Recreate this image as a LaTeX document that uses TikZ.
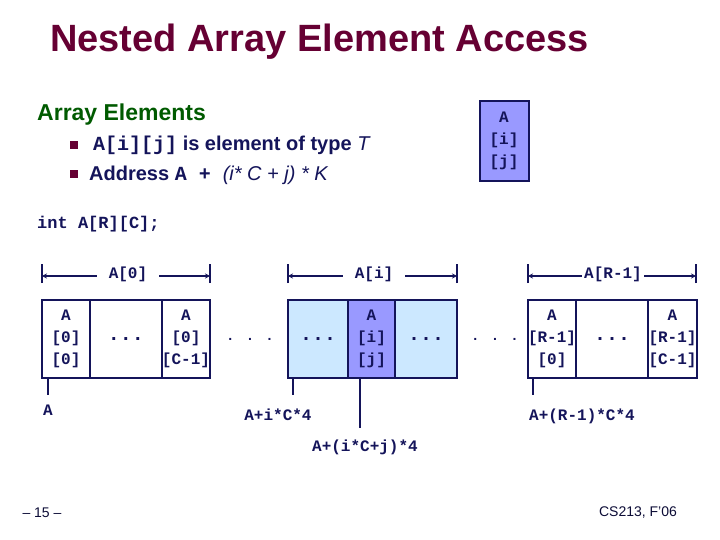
\documentclass[tikz,border=0pt]{standalone}
\usepackage{fontspec}
\setmainfont{Liberation Sans}
\newfontfamily\mono{Liberation Mono}
\usetikzlibrary{arrows.meta}
\definecolor{navy}{HTML}{14145A}
\definecolor{maroon}{HTML}{660033}
\definecolor{dgreen}{HTML}{005A00}
\definecolor{lblue}{HTML}{CCE8FF}
\definecolor{purp}{HTML}{9999FF}
\begin{document}
\begin{tikzpicture}[x=1pt,y=-1pt,
  cell/.style={draw=navy, line width=2.5pt, minimum height=78pt, inner sep=0pt,
    align=center, text=navy, font=\mono\bfseries\fontsize{16}{22}\selectfont},
  dotcell/.style={cell, font=\mono\bfseries\fontsize{20}{22}\selectfont},
  code/.style={text=navy, font=\mono\bfseries\fontsize{16}{18}\selectfont, inner sep=0pt},
  dimlab/.style={code, inner ysep=2pt},
  dimline/.style={navy, line width=2pt, -{Stealth[length=5pt,width=5pt]}},
  tickline/.style={navy, line width=2.5pt},
  ptr/.style={navy, line width=2.5pt},
  bullet/.style={fill=maroon, minimum size=8pt, inner sep=0pt},
  dots/.style={text=navy, font=\mono\bfseries\fontsize{14}{18}\selectfont, inner sep=0pt},
]
\useasboundingbox (0,0) rectangle (720,540);

% title
\node[text=maroon, font=\bfseries\fontsize{38}{40}\selectfont, anchor=base west, inner sep=0pt] (title) at (50,52) {Nested Array Element Access};

% heading and bullets
\node[text=dgreen, font=\bfseries\fontsize{23}{26}\selectfont, anchor=base west, inner sep=0pt] (head) at (37,121) {Array Elements};
\node[bullet] (b1) at (74,145) {};
\node[bullet] (b2) at (74,174) {};
\node[anchor=base west, inner sep=0pt, text=navy, font=\bfseries\fontsize{20}{22}\selectfont] (t1) at (93,151)
  {{\mono A[i][j]} is element of type {\itshape\mdseries T}};
\node[anchor=base west, inner sep=0pt, text=navy, font=\bfseries\fontsize{20}{22}\selectfont] (t2) at (89,181)
  {Address {\mono A + }{\itshape\mdseries (i* C + j) * K}};

% element box top right
\node[cell, fill=purp, minimum width=49pt, minimum height=80pt, line width=2pt] (elem) at (504,141) {A\\{[i]}\\{[j]}};

% declaration
\node[anchor=base west, inner sep=0pt, text=navy, font=\mono\bfseries\fontsize{17}{20}\selectfont] (decl) at (37,229) {int A[R][C];};

% array cells
\node[cell, minimum width=48pt] (a00) at (66,339) {A\\{[0]}\\{[0]}};
\node[dotcell, minimum width=72pt] (a0d) at (126,339) {...};
\node[cell, minimum width=48pt] (a0e) at (186,339) {A\\{[0]}\\{[C-1]}};
\node[dots] (dots1) at (250,339) {. . .};
\node[dotcell, fill=lblue, minimum width=60pt] (ai1) at (318,339) {...};
\node[cell, fill=purp, minimum width=47pt] (aij) at (371.5,339) {A\\{[i]}\\{[j]}};
\node[dotcell, fill=lblue, minimum width=62pt] (ai3) at (426,339) {...};
\node[dots] (dots2) at (495,339) {. . .};
\node[cell, minimum width=48pt] (aR0) at (552,339) {A\\{[R-1]}\\{[0]}};
\node[dotcell, minimum width=72pt] (aRd) at (612,339) {...};
\node[cell, minimum width=49pt] (aRe) at (672.5,339) {A\\{[R-1]}\\{[C-1]}};

% dimension lines
\node[dimlab, inner xsep=12pt] (lab0) at (128,274) {A[0]};
\node[dimlab, inner xsep=12pt] (labi) at (374,274) {A[i]};
\node[dimlab, inner xsep=2pt] (labR) at (613,274) {A[R-1]};
\coordinate (d0l) at (42,276);  \coordinate (d0r) at (210,276);
\coordinate (dil) at (288,276); \coordinate (dir) at (457,276);
\coordinate (dRl) at (528,276); \coordinate (dRr) at (696,276);
\foreach \c in {d0l,d0r,dil,dir,dRl,dRr} {
  \draw[tickline] ([yshift=-7pt]\c) -- ([yshift=12pt]\c);
}
\draw[dimline] (lab0.west |- d0l) -- (d0l);
\draw[dimline] (lab0.east |- d0r) -- (d0r);
\draw[dimline] (labi.west |- dil) -- (dil);
\draw[dimline] (labi.east |- dir) -- (dir);
\draw[dimline] (labR.west |- dRl) -- (dRl);
\draw[dimline] (labR.east |- dRr) -- (dRr);

% pointers
\coordinate (pA) at (48,379);   \coordinate (pAe) at (48,395);
\coordinate (pB) at (293,379);  \coordinate (pBe) at (293,395);
\coordinate (pC) at (360,379);  \coordinate (pCe) at (360,428);
\coordinate (pD) at (533,379);  \coordinate (pDe) at (533,395);
\draw[ptr] (pA) -- (pAe);
\draw[ptr] (pB) -- (pBe);
\draw[ptr] (pC) -- (pCe);
\draw[ptr] (pD) -- (pDe);
\node[code] (lA) at (48,410) {A};
\node[code] (lB) at (278,415) {A+i*C*4};
\node[code] (lC) at (365,447) {A+(i*C+j)*4};
\node[code] (lD) at (582,416) {A+(R-1)*C*4};

% footer
\node[text=navy!60!black, font=\fontsize{14}{16}\selectfont, inner sep=0pt] (pg) at (42,513) {-- 15 --};
\node[text=navy!60!black, font=\fontsize{14}{16}\selectfont, inner sep=0pt] (cs) at (638,513) {CS213, F'06};
\end{tikzpicture}
\end{document}
